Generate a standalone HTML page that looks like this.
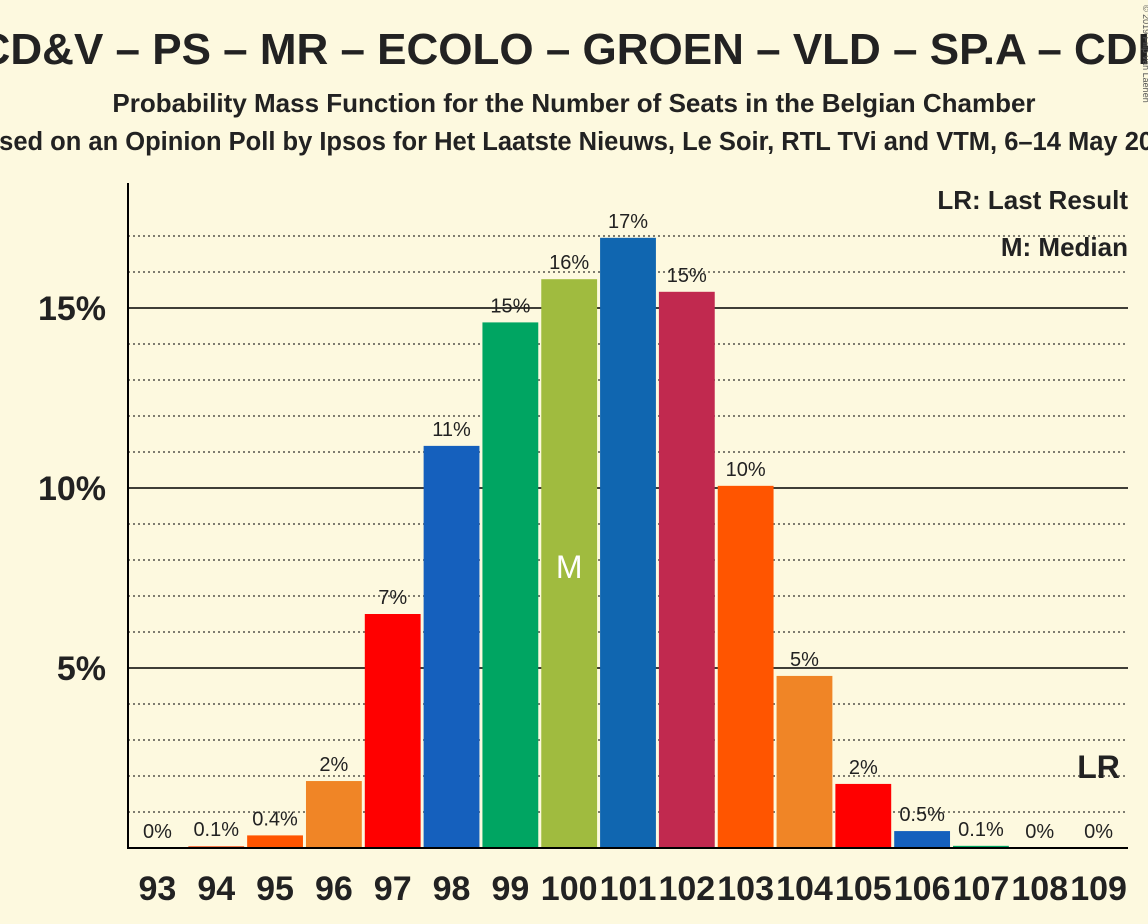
<!DOCTYPE html>
<html><head><meta charset="utf-8"><style>
body{margin:0;background:#fdf9df;}
svg{display:block;font-family:"Liberation Sans",sans-serif;}
</style></head><body>
<svg width="1148" height="924" viewBox="0 0 1148 924">
<rect width="1148" height="924" fill="#fdf9df"/>
<text x="574" y="64" text-anchor="middle" font-size="44" font-weight="bold" fill="#222">CD&amp;V – PS – MR – ECOLO – GROEN – VLD – SP.A – CDH</text>
<text x="574" y="112" text-anchor="middle" font-size="26" font-weight="bold" fill="#222">Probability Mass Function for the Number of Seats in the Belgian Chamber</text>
<text x="574" y="150" text-anchor="middle" font-size="25.5" font-weight="bold" fill="#222">Based on an Opinion Poll by Ipsos for Het Laatste Nieuws, Le Soir, RTL TVi and VTM, 6–14 May 2019</text>
<text x="1143" y="5" font-size="9" fill="#555" transform="rotate(90 1143 5)">© 2019 Filip van Laenen</text>
<g id="grid"></g>
<g id="bars"></g>
<line x1="128" y1="183" x2="128" y2="849" stroke="#000" stroke-width="2"/>
<line x1="127" y1="848" x2="1128" y2="848" stroke="#000" stroke-width="2"/>
<text x="1128" y="209" text-anchor="end" font-size="26" font-weight="bold" fill="#222">LR: Last Result</text>
<text x="1128" y="256" text-anchor="end" font-size="26" font-weight="bold" fill="#222">M: Median</text>
</svg>
<script>
const seats=[93,94,95,96,97,98,99,100,101,102,103,104,105,106,107,108,109];
const probs=[0,0.05,0.35,1.86,6.5,11.17,14.6,15.8,16.95,15.45,10.06,4.78,1.78,0.47,0.06,0,0];
const labels=["0%","0.1%","0.4%","2%","7%","11%","15%","16%","17%","15%","10%","5%","2%","0.5%","0.1%","0%","0%"];
const colors=["#f15a24","#f15a24","#ff5500","#f08526","#ff0000","#1560bd","#00a562","#a0bb3f","#1066b0","#c1294f","#ff5500","#f08526","#ff0000","#1560bd","#00a562","#00a562","#00a562"];
const yTicks=[5,10,15];
const medianSeat=100, lastResultSeat=109;
const NS="http://www.w3.org/2000/svg";
const x0=128,slot=1000/17,base=848,pp=36;
const xs=i=>x0+i*slot;
const ys=v=>base-v*pp;
function mk(t,a,p,txt){const e=document.createElementNS(NS,t);for(const k in a)e.setAttribute(k,a[k]);if(txt!==undefined)e.textContent=txt;p.appendChild(e);return e;}
const g=document.getElementById('grid'),b=document.getElementById('bars');
for(let v=1;v<=17;v++){
  if(yTicks.includes(v))continue;
  const l=mk('line',{x1:128,x2:1128,y1:ys(v),y2:ys(v),stroke:'#000','stroke-width':1,'stroke-dasharray':'2,3'},g);
  
  
}
yTicks.forEach(v=>{
  const l=mk('line',{x1:128,x2:1128,y1:ys(v),y2:ys(v),stroke:'#000','stroke-width':1.5},g);
  
  
  const t=mk('text',{x:106,y:ys(v)+12,'text-anchor':'end','font-size':34,'font-weight':'bold',fill:'#222'},g,v+'%');
  
  
});
seats.forEach((s,i)=>{
  const x=xs(i)+1.5,w=slot-3,y=ys(probs[i]);
  if(probs[i]>0){
    const r=mk('rect',{x:x,y:y,width:w,height:base-y,fill:colors[i]},b);
    
    
  }
  const cx=xs(i)+slot/2;
  const lb=mk('text',{x:cx,y:y-10,'text-anchor':'middle','font-size':20,fill:'#222'},b,labels[i]);
  
  
  const xl=mk('text',{x:cx,y:900,'text-anchor':'middle','font-size':34,'font-weight':'bold',fill:'#222'},b,s);
  
  
  if(s===medianSeat){
    const m=mk('text',{x:cx,y:578,'text-anchor':'middle','font-size':32,fill:'#fff'},b,'M');
    
    
  }
  if(s===lastResultSeat){
    const m=mk('text',{x:cx,y:778,'text-anchor':'middle','font-size':32,'font-weight':'bold',fill:'#222'},b,'LR');
    
    
  }
});
</script>
</body></html>
